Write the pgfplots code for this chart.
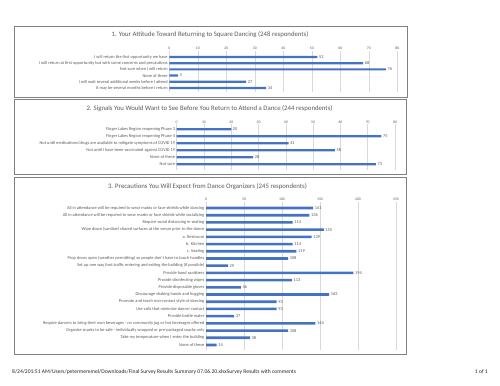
\documentclass[border=0pt]{standalone}
\usepackage{pgfplots}
\pgfplotsset{compat=1.18}
\usepackage{fontspec}
\setmainfont{Carlito}
\definecolor{barblue}{HTML}{4472C4}
\definecolor{txtgray}{HTML}{595959}
\definecolor{gridgray}{HTML}{D9D9D9}
\definecolor{boxgray}{HTML}{808080}
\pgfplotsset{
  panel/.style={
    xbar, scale only axis,
    bar shift=0pt,
    axis line style={draw=none},
    major tick length=0pt,
    xmajorgrids, grid style={gridgray, line width=0.5pt},
    xticklabel pos=upper,
    xticklabel style={font=\fontsize{3.8}{4}\selectfont, text=txtgray, inner sep=0.8pt},
    yticklabel style={font=\fontsize{4.4}{5}\selectfont, text=txtgray, inner sep=1.5pt},
    /pgf/number format/assume math mode=true,
    nodes near coords,
    nodes near coords style={font=\fontsize{4.4}{5}\selectfont, text=txtgray, anchor=west, inner sep=1.5pt},
    clip=false,
  }
}
\begin{document}
\begin{tikzpicture}
\path (0bp,0bp) rectangle (500bp,-386bp);
% panel boxes
\draw[boxgray, line width=0.8pt] (14bp,-26bp) rectangle (407bp,-97bp);
\draw[boxgray, line width=0.8pt] (14bp,-99bp) rectangle (406bp,-174bp);
\draw[boxgray, line width=0.8pt] (14bp,-177bp) rectangle (406bp,-354bp);
% titles
\node[font=\fontsize{6.8}{8}\selectfont, text=txtgray] at (210bp,-35bp) {1. Your Attitude Toward Returning to Square Dancing (248 respondents)};
\node[font=\fontsize{6.8}{8}\selectfont, text=txtgray] at (209.5bp,-109bp) {2. Signals You Would Want to See Before You Return to Attend a Dance (244 respondents)};
\node[font=\fontsize{6.8}{8}\selectfont, text=txtgray] at (207.5bp,-187bp) {3. Precautions You Will Expect from Dance Organizers (245 respondents)};
% panel 1
\begin{axis}[panel, at={(169.3bp,-91.7bp)}, anchor=south west,
  width=228bp, height=40.9bp,
  xmin=0, xmax=80, xtick={0,10,...,80},
  ymin=-5.6, ymax=1, bar width=2.2pt,
  ytick={0,-1,-2,-3,-4,-5},
  yticklabels={I will return the first opportunity we have,
    I will return at first opportunity but with some concerns and precautions,
    Not sure when I will return,
    None of these,
    I will wait several additional weeks before I attend,
    It may be several months before I return}]
\addplot[fill=barblue, draw=none] coordinates {(52,0) (68,-1) (76,-2) (3,-3) (27,-4) (34,-5)};
\end{axis}
% panel 2
\begin{axis}[panel, at={(176.7bp,-169.9bp)}, anchor=south west,
  width=218.3bp, height=45.85bp,
  xmin=0, xmax=80, xtick={0,10,...,80},
  ymin=-5.8, ymax=0.75, bar width=2.2pt,
  ytick={0,-1,-2,-3,-4,-5},
  yticklabels={Finger Lakes Region reopening Phase 3,
    Finger Lakes Region reopening Phase 4,
    Not until medications/drugs are available to mitigate symptoms of COVID 19,
    Not until I have been vaccinated against COVID 19,
    None of these,
    Not sure}]
\addplot[fill=barblue, draw=none] coordinates {(20,0) (75,-1) (41,-2) (58,-3) (28,-4) (73,-5)};
\end{axis}
% panel 3
\begin{axis}[panel, at={(206bp,-350bp)}, anchor=south west,
  width=190bp, height=148.1bp,
  xmin=0, xmax=250, xtick={0,50,...,250},
  ymin=-19.7, ymax=0.85, bar width=2.6pt,
  ytick={0,-1,-2,-3,-4,-5,-6,-7,-8,-9,-10,-11,-12,-13,-14,-15,-16,-17,-18,-19},
  yticklabels={All in attendance will be required to wear masks or face shields while dancing,
    All in attendance will be required to wear masks or face shields while socializing,
    Require social distancing in seating,
    Wipe down (sanitize) shared surfaces at the venue prior to the dance,
    a. Restroom,
    b. Kitchen,
    c. Seating,
    Prop doors open (weather permitting) so people don't have to touch handles,
    Set up one way foot traffic entering and exiting the building (if possible),
    Provide hand sanitizers,
    Provide disinfecting wipes,
    Provide disposable gloves,
    Discourage shaking hands and hugging,
    Promote and teach non-contact style of dancing,
    Use calls that minimize dancer contact,
    Provide bottle water,
    Require dancers to bring their own beverages - no community jug or hot beverages offered,
    Organize snacks to be safe - individually wrapped or pre-packaged snacks only,
    Take my temperature when I enter the building,
    None of these}]
\addplot[fill=barblue, draw=none] coordinates {(141,0) (136,-1) (114,-2) (155,-3) (139,-4) (114,-5) (119,-6) (108,-7) (29,-8) (194,-9) (113,-10) (46,-11) (162,-12) (93,-13) (93,-14) (37,-15) (144,-16) (108,-17) (58,-18) (14,-19)};
\end{axis}
% footer
\node[font=\fontsize{5.6}{7}\selectfont, text=black!85, anchor=west, inner sep=0pt] at (12bp,-372bp) {8/24/201:51 AM/Users/petermemmel/Downloads/Final Survey Results Summary 07.06.20.xlsxSurvey Results with comments};
\node[font=\fontsize{5.6}{7}\selectfont, text=black!85, anchor=east, inner sep=0pt] at (488bp,-372bp) {1 of 1};
\end{tikzpicture}
\end{document}
